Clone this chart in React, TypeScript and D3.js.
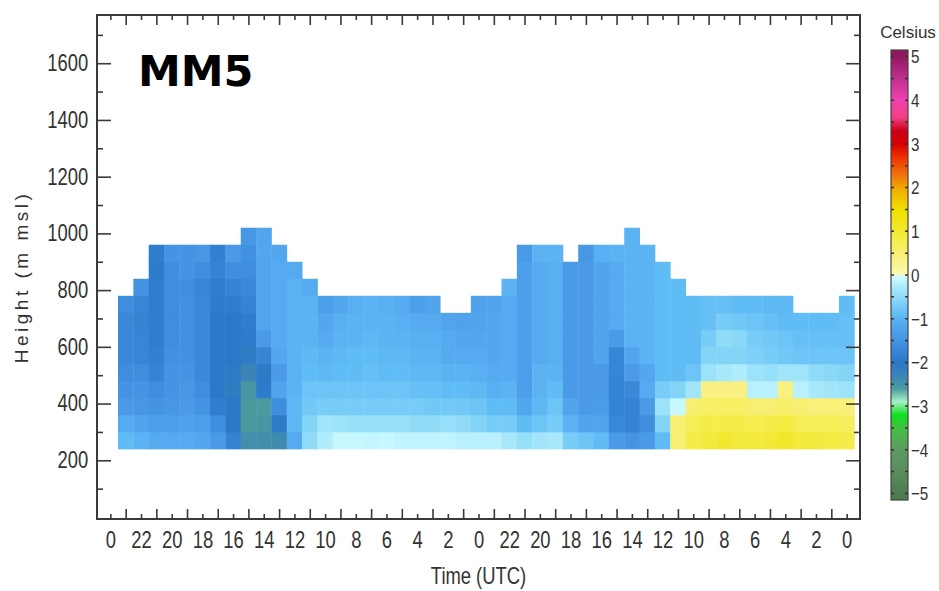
import * as React from "react";
import * as d3 from "d3";
import { useEffect, useRef } from "react";

// x axis labels, one every 2 hours (time runs backwards in the original plot)
const timeLabels = [
  "0", "22", "20", "18", "16", "14", "12", "10", "8", "6", "4", "2",
  "0", "22", "20", "18", "16", "14", "12", "10", "8", "6", "4", "2", "0",
];
const heightTicks = [200, 400, 600, 800, 1000, 1200, 1400, 1600];
const heightMinor = [100, 300, 500, 700, 900, 1100, 1300, 1500, 1700];
// vertical bin edges of the profiler gates (m msl)
const heightBins = [240, 300, 360, 420, 480, 540, 600, 660, 720, 780, 840, 900, 960, 1020];

const colorTicks = [5, 4, 3, 2, 1, 0, -1, -2, -3, -4, -5];
const colorStops = [
  -5, -4.5, -4, -3.5, -3.2, -2.9, -2.6, -2.3, -2, -1.7, -1.4, -1.1, -0.9, -0.7, -0.5,
  -0.3, -0.1, -0.001, 0.001, 0.4, 0.7, 1, 1.5, 2, 2.3, 2.7, 3, 3.3, 3.6, 4, 4.5, 5,
];
const colorRange = [
  "#4e7c52", "#5a8c5e", "#5f9a62", "#40c040", "#10e020", "#a8f0c8", "#4a9aa0", "#3a84b8",
  "#2a78c8", "#3a88d8", "#4a9ae8", "#55aaf0", "#60bcf5", "#78ccf8", "#90dcf8", "#a8e8fa",
  "#c8f8ff", "#d8f8ff", "#fcf8b0", "#f8f080", "#f6ee56", "#f2e830", "#f0e000", "#f0a800",
  "#f07010", "#f03000", "#d80000", "#c80018", "#f04080", "#f040b0", "#c03090", "#901860",
];

// temperature difference per hourly column, gates listed bottom -> top
const profiles: number[][] = [
  [-0.9, -1.1, -1.4, -1.5, -1.6, -1.7, -1.7, -1.7, -1.6],
  [-1.0, -1.2, -1.45, -1.5, -1.6, -1.75, -1.75, -1.8, -1.75, -1.5],
  [-1.1, -1.3, -1.5, -1.6, -1.8, -1.85, -1.9, -1.9, -1.9, -1.9, -1.95, -1.9],
  [-1.1, -1.3, -1.45, -1.5, -1.5, -1.55, -1.6, -1.6, -1.6, -1.6, -1.6, -1.5],
  [-1.1, -1.25, -1.4, -1.45, -1.5, -1.55, -1.55, -1.55, -1.55, -1.6, -1.5, -1.5],
  [-1.15, -1.3, -1.5, -1.6, -1.7, -1.7, -1.7, -1.7, -1.7, -1.75, -1.6, -1.45],
  [-1.4, -1.6, -1.9, -2.0, -2.0, -2.0, -2.0, -2.0, -1.95, -1.9, -1.8, -1.85],
  [-1.8, -2.0, -2.0, -2.1, -2.05, -2.0, -2.0, -2.0, -1.9, -1.8, -1.6, -1.4],
  [-2.45, -2.6, -2.6, -2.55, -2.3, -2.1, -1.95, -1.9, -1.8, -1.7, -1.6, -1.55, -1.45],
  [-2.45, -2.55, -2.6, -1.95, -2.05, -1.75, -1.4, -1.2, -1.2, -1.2, -1.2, -1.15, -1.2],
  [-2.4, -2.05, -1.6, -1.2, -1.4, -1.15, -1.1, -1.1, -1.1, -1.1, -1.1, -1.15],
  [-1.1, -0.95, -0.95, -1.0, -1.0, -1.0, -1.0, -1.0, -1.0, -1.0, -1.1],
  [-0.5, -0.6, -0.75, -0.8, -0.9, -0.95, -1.0, -1.0, -1.0, -1.1],
  [-0.25, -0.35, -0.7, -0.8, -0.95, -1.0, -1.1, -1.15, -1.3],
  [-0.1, -0.4, -0.7, -0.8, -0.9, -0.95, -1.0, -1.05, -1.15],
  [-0.1, -0.45, -0.7, -0.8, -0.9, -0.9, -1.0, -1.0, -1.05],
  [-0.12, -0.45, -0.7, -0.8, -0.85, -0.9, -0.95, -1.0, -1.0],
  [-0.1, -0.45, -0.7, -0.8, -0.9, -0.95, -1.0, -1.0, -1.05],
  [-0.15, -0.45, -0.7, -0.8, -0.9, -0.95, -1.0, -1.05, -1.1],
  [-0.15, -0.5, -0.7, -0.85, -0.95, -1.0, -1.05, -1.1, -1.3],
  [-0.15, -0.5, -0.75, -0.85, -0.95, -1.0, -1.05, -1.1, -1.2],
  [-0.15, -0.45, -0.75, -0.9, -1.0, -1.1, -1.1, -1.2],
  [-0.2, -0.5, -0.75, -0.9, -1.0, -1.1, -1.15, -1.25],
  [-0.2, -0.6, -0.8, -0.95, -1.05, -1.1, -1.15, -1.2, -1.25],
  [-0.2, -0.7, -0.9, -1.05, -1.1, -1.15, -1.15, -1.15, -1.2],
  [-0.3, -0.7, -0.9, -1.0, -1.1, -1.1, -1.1, -1.1, -1.1, -1.0],
  [-0.45, -0.9, -1.15, -1.3, -1.3, -1.3, -1.3, -1.3, -1.3, -1.3, -1.3, -1.4],
  [-0.35, -0.8, -0.95, -1.0, -1.0, -1.1, -1.1, -1.1, -1.1, -1.1, -1.1, -1.0],
  [-0.3, -0.7, -0.8, -0.9, -1.0, -1.05, -1.05, -1.05, -1.05, -1.05, -1.05, -1.0],
  [-0.7, -1.0, -1.2, -1.4, -1.4, -1.4, -1.4, -1.4, -1.4, -1.4, -1.4],
  [-0.8, -1.2, -1.4, -1.4, -1.4, -1.4, -1.4, -1.4, -1.4, -1.4, -1.4, -1.45],
  [-0.9, -1.2, -1.35, -1.4, -1.4, -1.2, -1.2, -1.2, -1.2, -1.2, -1.2, -1.05],
  [-1.4, -1.7, -1.8, -1.8, -1.75, -1.75, -1.4, -1.1, -1.1, -1.1, -1.1, -1.0],
  [-1.5, -1.8, -1.8, -1.7, -1.4, -1.2, -1.0, -1.0, -1.0, -1.0, -1.0, -1.0, -1.0],
  [-1.4, -1.6, -1.4, -1.1, -1.15, -1.0, -1.0, -1.0, -1.0, -1.0, -1.0, -1.0],
  [-0.9, -0.6, -0.4, -0.7, -0.9, -0.9, -0.9, -0.9, -0.9, -0.9, -0.9],
  [0.5, 0.5, -0.1, -0.6, -0.9, -0.9, -0.9, -0.9, -0.9, -0.9],
  [0.8, 0.7, 0.5, -0.35, -0.8, -0.9, -0.9, -0.9, -0.9],
  [0.9, 0.8, 0.6, 0.4, -0.4, -0.6, -0.7, -0.85, -0.85],
  [1.0, 0.8, 0.6, 0.4, -0.3, -0.6, -0.5, -0.7, -0.85],
  [0.9, 0.8, 0.6, 0.4, -0.25, -0.6, -0.55, -0.75, -0.9],
  [0.9, 0.75, 0.5, -0.2, -0.4, -0.65, -0.7, -0.8, -0.9],
  [0.95, 0.8, 0.5, -0.2, -0.45, -0.7, -0.75, -0.85, -0.95],
  [1.05, 0.85, 0.55, 0.4, -0.35, -0.75, -0.8, -0.9, -0.95],
  [0.9, 0.7, 0.5, -0.2, -0.35, -0.8, -0.85, -0.9],
  [0.9, 0.7, 0.45, -0.3, -0.5, -0.8, -0.85, -0.9],
  [0.85, 0.7, 0.45, -0.35, -0.55, -0.8, -0.85, -0.9],
  [0.8, 0.65, 0.45, -0.4, -0.6, -0.8, -0.85, -0.85, -0.9],
];

const FONT = '"Liberation Sans", Arial, sans-serif';
const SQUEEZE = 0.8; // the original uses a condensed face

interface Cell {
  col: number;
  row: number;
  value: number;
}

function generateChart(svgRef: React.RefObject<SVGSVGElement>) {
  const svg = d3.select(svgRef.current);
  svg.selectAll("*").remove();

  const left = 97;
  const right = 860;
  const top = 15;
  const bottom = 519;

  // hours along the x axis, 0 at the first label
  const x = d3.scaleLinear().domain([-0.87, 48.87]).range([left, right]);
  const y = d3.scaleLinear().domain([-7, 1770]).range([bottom, top]);
  const color = d3
    .scaleLinear<string>()
    .domain(colorStops)
    .range(colorRange)
    .interpolate(d3.interpolateRgb)
    .clamp(true);

  const cells: Cell[] = [];
  profiles.forEach((p, col) => p.forEach((value, row) => cells.push({ col, row, value })));

  svg
    .append("g")
    .selectAll("rect")
    .data(cells)
    .enter()
    .append("rect")
    .attr("x", (d) => x(d.col + 0.5))
    .attr("y", (d) => y(heightBins[d.row + 1]))
    .attr("width", (d) => x(d.col + 1.5) - x(d.col + 0.5) + 0.4)
    .attr("height", (d) => y(heightBins[d.row]) - y(heightBins[d.row + 1]) + 0.4)
    .attr("fill", (d) => color(d.value));

  const frameColor = "#3a3a3a";
  const axisStyle = (g: d3.Selection<SVGGElement, unknown, null, undefined>) => {
    g.select(".domain").remove();
    g.selectAll("line").attr("stroke", frameColor).attr("stroke-width", 1.6);
    g.selectAll("text")
      .attr("fill", "#333")
      .attr("font-family", FONT)
      .attr("font-size", 23)
      .attr("transform", `scale(${SQUEEZE},1)`);
  };

  // left / right height axes
  svg
    .append("g")
    .attr("transform", `translate(${left},0)`)
    .call(d3.axisLeft(y).tickValues(heightTicks).tickSize(-14).tickPadding(11).tickFormat(d3.format("d")))
    .call(axisStyle);
  svg
    .append("g")
    .attr("transform", `translate(${left},0)`)
    .call(d3.axisLeft(y).tickValues(heightMinor).tickSize(-6).tickFormat(() => ""))
    .call(axisStyle);
  svg
    .append("g")
    .attr("transform", `translate(${right},0)`)
    .call(d3.axisRight(y).tickValues(heightTicks).tickSize(-14).tickFormat(() => ""))
    .call(axisStyle);
  svg
    .append("g")
    .attr("transform", `translate(${right},0)`)
    .call(d3.axisRight(y).tickValues(heightMinor).tickSize(-6).tickFormat(() => ""))
    .call(axisStyle);

  // time axes: labels every 2 h, longer ticks on the odd hours
  const evenHours = timeLabels.map((_, i) => i * 2);
  const oddHours = d3.range(1, 48, 2);
  svg
    .append("g")
    .attr("transform", `translate(0,${bottom})`)
    .call(
      d3
        .axisBottom(x)
        .tickValues(evenHours)
        .tickSize(-5)
        .tickPadding(13)
        .tickFormat((_, i) => timeLabels[i])
    )
    .call(axisStyle);
  svg
    .append("g")
    .attr("transform", `translate(0,${bottom})`)
    .call(d3.axisBottom(x).tickValues(oddHours).tickSize(-10).tickFormat(() => ""))
    .call(axisStyle);
  svg
    .append("g")
    .attr("transform", `translate(0,${top})`)
    .call(d3.axisTop(x).tickValues(evenHours).tickSize(-5).tickFormat(() => ""))
    .call(axisStyle);
  svg
    .append("g")
    .attr("transform", `translate(0,${top})`)
    .call(d3.axisTop(x).tickValues(oddHours).tickSize(-10).tickFormat(() => ""))
    .call(axisStyle);

  svg
    .append("rect")
    .attr("x", left)
    .attr("y", top)
    .attr("width", right - left)
    .attr("height", bottom - top)
    .attr("fill", "none")
    .attr("stroke", frameColor)
    .attr("stroke-width", 2);

  // axis titles
  svg
    .append("text")
    .attr("transform", `translate(${(left + right) / 2},584) scale(${SQUEEZE},1)`)
    .attr("text-anchor", "middle")
    .attr("font-family", FONT)
    .attr("font-size", 23)
    .attr("fill", "#333")
    .text("Time (UTC)");
  svg
    .append("text")
    .attr("transform", `translate(28,${(top + bottom) / 2 + 10}) rotate(-90)`)
    .attr("text-anchor", "middle")
    .attr("font-family", FONT)
    .attr("font-size", 19)
    .attr("letter-spacing", 3.5)
    .attr("fill", "#333")
    .text("Height (m msl)");

  svg
    .append("text")
    .attr("x", 138)
    .attr("y", 86)
    .attr("font-family", '"DejaVu Sans", sans-serif')
    .attr("font-weight", "bold")
    .attr("font-size", 43)
    .attr("fill", "#000")
    .text("MM5");

  // colour bar
  const cbX = 891;
  const cbW = 17;
  const cbScale = d3.scaleLinear().domain([5.15, -5.15]).range([50, 500]);
  const defs = svg.append("defs");
  const grad = defs
    .append("linearGradient")
    .attr("id", "cbar")
    .attr("x1", 0)
    .attr("y1", 1)
    .attr("x2", 0)
    .attr("y2", 0);
  grad
    .selectAll("stop")
    .data(colorStops)
    .enter()
    .append("stop")
    .attr("offset", (d) => (d + 5.15) / 10.3)
    .attr("stop-color", (d, i) => colorRange[i]);
  svg
    .append("rect")
    .attr("x", cbX)
    .attr("y", cbScale(5.15))
    .attr("width", cbW)
    .attr("height", cbScale(-5.15) - cbScale(5.15))
    .attr("fill", "url(#cbar)")
    .attr("stroke", "#444")
    .attr("stroke-width", 1.2);

  const halfSteps = d3.range(-5, 5.01, 0.5);
  svg
    .append("g")
    .selectAll("path")
    .data(halfSteps)
    .enter()
    .append("path")
    .attr("d", (d) => `M${cbX},${cbScale(d)}h3M${cbX + cbW - 3},${cbScale(d)}h3`)
    .attr("stroke", "#333")
    .attr("stroke-width", 1.5);

  svg
    .append("g")
    .selectAll("text")
    .data(colorTicks)
    .enter()
    .append("text")
    .attr("transform", (d) => `translate(${cbX + cbW + 3},${cbScale(d)}) scale(${SQUEEZE},1)`)
    .attr("dy", "0.36em")
    .attr("font-family", FONT)
    .attr("font-size", 19)
    .attr("fill", "#333")
    .text((d) => (d < 0 ? "\u2212" + Math.abs(d) : String(d)));

  svg
    .append("text")
    .attr("x", 908)
    .attr("y", 38)
    .attr("text-anchor", "middle")
    .attr("font-family", FONT)
    .attr("font-size", 17)
    .attr("fill", "#333")
    .text("Celsius");
}

export default function App() {
  const svg = useRef<SVGSVGElement>(null);
  useEffect(() => {
    generateChart(svg);
  }, []);
  return (
    <svg
      ref={svg}
      width={939}
      height={591}
      style={{ position: "absolute", left: 0, top: 0, background: "#fff" }}
    />
  );
}
